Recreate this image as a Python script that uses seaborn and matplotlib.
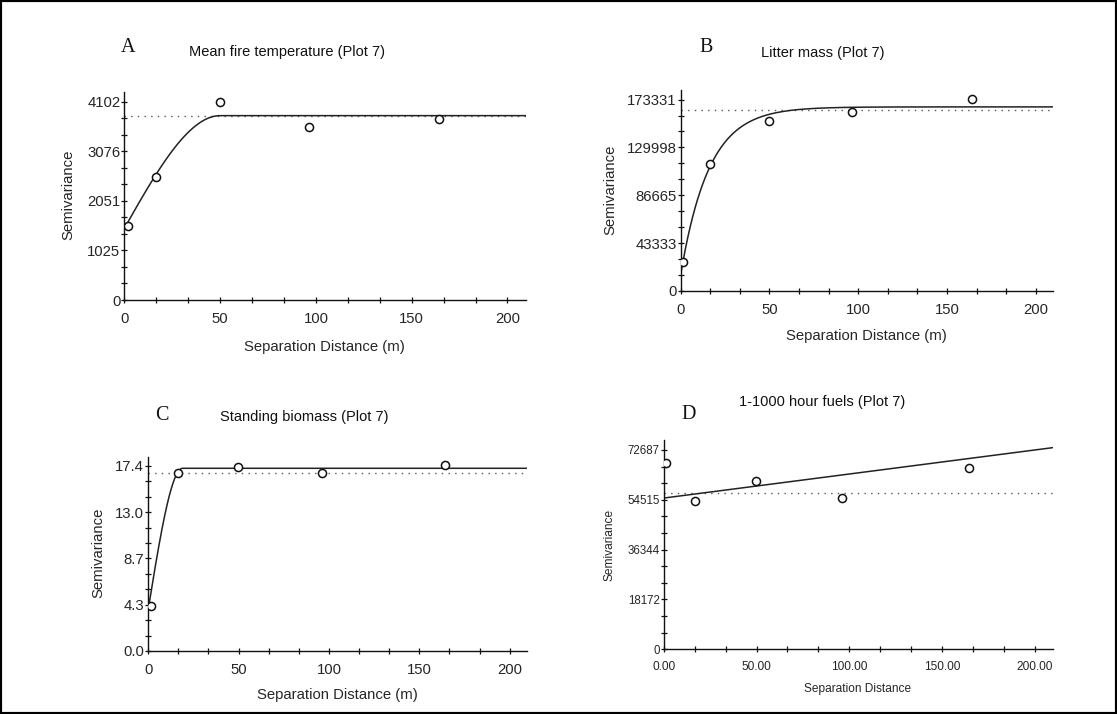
import numpy as np
import pandas as pd
import matplotlib
matplotlib.use('Agg')
import matplotlib.pyplot as plt
from matplotlib.patches import Rectangle
from matplotlib.ticker import FixedLocator, MultipleLocator, FormatStrFormatter
import seaborn as sns

# ---- data ----
panel_letters = ['A', 'B', 'C', 'D']
panel_titles = ['Mean fire temperature (Plot 7)', 'Litter mass (Plot 7)',
                'Standing biomass (Plot 7)', '1-1000 hour fuels (Plot 7)']
x_labels = ['Separation Distance (m)', 'Separation Distance (m)',
            'Separation Distance (m)', 'Separation Distance']

a_lag = [1.7, 16.6, 49.8, 96.5, 164.4]
a_gamma = [1530, 2551, 4096, 3586, 3744]
b_lag = [1.4, 16.8, 50.0, 96.4, 164.4]
b_gamma = [26000, 115200, 153500, 162400, 173560]
c_lag = [1.4, 16.4, 49.9, 96.0, 164.5]
c_gamma = [4.26, 16.74, 17.31, 16.71, 17.46]
d_lag = [1.35, 16.6, 49.5, 96.1, 164.6]
d_gamma = [67850, 54180, 61200, 55030, 66035]

# y tick values are top/4 steps, labels as printed
a_yticklabels = ['0', '1025', '2051', '3076', '4102']
b_yticklabels = ['0', '43333', '86665', '129998', '173331']
c_yticklabels = ['0.0', '4.3', '8.7', '13.0', '17.4']
d_yticklabels = ['0', '18172', '36344', '54515', '72687']
y_tops = [4102, 173331, 17.4, 72687]

# fitted models: (type, nugget, sill or slope, range parameter)
a_model = ('spherical', 1480, 3812, 50.0)
b_model = ('exponential', 14000, 166700, 16.0)
c_model = ('spherical', 3.9, 17.18, 19.0)
d_model = ('linear', 55150, 87.7, None)
sample_variance = [3812, 164300, 16.77, 56965]

lags = [a_lag, b_lag, c_lag, d_lag]
gammas = [a_gamma, b_gamma, c_gamma, d_gamma]
yticklabels = [a_yticklabels, b_yticklabels, c_yticklabels, d_yticklabels]
models = [a_model, b_model, c_model, d_model]

W, H = 1117, 714
XMAX = 209.5


def model_curve(model, h):
    kind, c0, c, a = model
    if kind == 'spherical':
        t = np.minimum(h / a, 1.0)
        return c0 + (c - c0) * (1.5 * t - 0.5 * t ** 3)
    if kind == 'exponential':
        return c0 + (c - c0) * (1 - np.exp(-h / a))
    return c0 + c * h


def fx(x):
    return x / W


def fy(y):
    return 1 - y / H


sns.set_style('ticks')
plt.rcParams['font.family'] = ['Liberation Sans', 'DejaVu Sans']

fig = plt.figure(figsize=(11.17, 7.14), dpi=100)

# axes boxes in pixels: left, right, bottom, top
boxes = [(124.3, 525.7, 300, 91.7), (680.5, 1052.6, 291, 90),
         (148.2, 526.8, 651, 456.7), (663.7, 1052.6, 649.3, 440)]
letter_pos = [(127.7, 48), (705.7, 48), (162, 415.5), (688.9, 414)]
title_pos = [(287, 52), (822.3, 52.5), (304.3, 417.5), (822.6, 402)]
xlabel_pos = [(324.2, 346.7), (866, 336), (337.5, 695.5), (857.6, 689)]
ylabel_pos = [(68.2, 195), (610.7, 190), (98.8, 552.5), (609.4, 545)]

for i in range(4):
    l, r, b, t = boxes[i]
    ax = fig.add_axes([fx(l), fy(b), (r - l) / W, (b - t) / H])
    small = (i == 3)
    fs = 8.6 if small else 10.7

    h = np.linspace(0.0, XMAX, 600)
    curve = pd.DataFrame({'h': h, 'g': model_curve(models[i], h)})
    ax.axhline(sample_variance[i], color='#555555', lw=1.0,
               linestyle=(0, (1, 3.8)), zorder=1)
    sns.lineplot(data=curve, x='h', y='g', ax=ax, color='#222222',
                 lw=1.1, zorder=2)
    pts = pd.DataFrame({'lag': lags[i], 'gamma': gammas[i]})
    sns.scatterplot(data=pts, x='lag', y='gamma', ax=ax, marker='o', s=34,
                    facecolor='white', edgecolor='#111111', linewidth=1.1,
                    zorder=3)

    top = y_tops[i]
    ax.set_xlim(0, XMAX)
    ax.set_ylim(0, top * 1.05)
    ax.yaxis.set_major_locator(FixedLocator([top * k / 4 for k in range(5)]))
    ax.set_yticklabels(yticklabels[i])
    ax.yaxis.set_minor_locator(MultipleLocator(top / 12))
    ax.xaxis.set_major_locator(MultipleLocator(50))
    ax.xaxis.set_minor_locator(MultipleLocator(50 / 3))
    if small:
        ax.xaxis.set_major_formatter(FormatStrFormatter('%.2f'))

    sns.despine(ax=ax)
    for sp in ['left', 'bottom']:
        ax.spines[sp].set_linewidth(1.0)
        ax.spines[sp].set_color('#111111')
    ax.tick_params(which='both', direction='inout', length=3.8, width=0.9,
                   color='#111111')
    ax.tick_params(axis='y', which='major', pad=1, labelsize=(8.3 if small else 10.7))
    ax.tick_params(axis='x', which='major', pad=6.5, labelsize=(8.6 if small else 10.7))

    ax.set_xlabel(x_labels[i], fontsize=fs, va='center')
    ax.xaxis.set_label_coords(fx(xlabel_pos[i][0]), fy(xlabel_pos[i][1]),
                              transform=fig.transFigure)
    ax.set_ylabel('Semivariance', fontsize=fs, va='center')
    ax.yaxis.set_label_coords(fx(ylabel_pos[i][0]), fy(ylabel_pos[i][1]),
                              transform=fig.transFigure)

    fig.text(fx(title_pos[i][0]), fy(title_pos[i][1]), panel_titles[i],
             ha='center', va='center', fontsize=10.5, color='#111111')
    fig.text(fx(letter_pos[i][0]), fy(letter_pos[i][1]), panel_letters[i],
             ha='center', va='center', fontsize=14.5, color='#111111',
             family=['Liberation Serif', 'DejaVu Serif'])

# black frame round the whole figure
fig.add_artist(Rectangle((0, 0), 1, 1, transform=fig.transFigure,
                         fill=False, lw=3, ec='black'))

fig.savefig('out.png', dpi=100, facecolor='white')
